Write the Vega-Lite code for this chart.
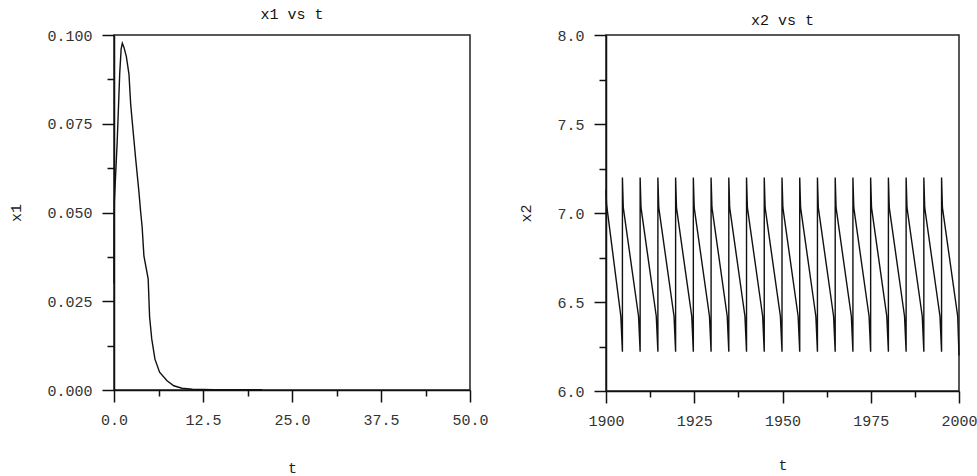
{
  "$schema": "https://vega.github.io/schema/vega-lite/v6.json",
  "padding": {"left": 8, "top": 6, "right": 0, "bottom": 0},
  "spacing": 29,
  "background": "white",
  "datasets": {
    "x1data": [
      {"t": 0, "x1": 0.03}, {"t": 0.05, "x1": 0.053}, {"t": 0.45, "x1": 0.07}, {"t": 0.8, "x1": 0.089},
      {"t": 1.0, "x1": 0.096}, {"t": 1.17, "x1": 0.0977}, {"t": 1.4, "x1": 0.0965}, {"t": 1.73, "x1": 0.094},
      {"t": 2.1, "x1": 0.089}, {"t": 2.34, "x1": 0.0806}, {"t": 2.53, "x1": 0.0763}, {"t": 3.05, "x1": 0.065},
      {"t": 3.5, "x1": 0.0558}, {"t": 3.75, "x1": 0.05}, {"t": 3.95, "x1": 0.046}, {"t": 4.2, "x1": 0.0378},
      {"t": 4.8, "x1": 0.0313}, {"t": 5.0, "x1": 0.0206}, {"t": 5.3, "x1": 0.0144}, {"t": 5.75, "x1": 0.0087},
      {"t": 6.4, "x1": 0.005}, {"t": 7.45, "x1": 0.0026}, {"t": 8.4, "x1": 0.0012}, {"t": 9.55, "x1": 0.0005},
      {"t": 11, "x1": 0.0002}, {"t": 14, "x1": 0.0001}, {"t": 20.8, "x1": 0.0001}
    ],
    "x2data": [
      {"t": 1900, "x2": 7.13}, {"t": 1900.15, "x2": 7.05}, {"t": 1904.2, "x2": 6.42},
      {"t": 1904.65, "x2": 6.22}, {"t": 1904.65, "x2": 7.2}, {"t": 1904.9, "x2": 7.03}, {"t": 1909.22, "x2": 6.42},
      {"t": 1909.67, "x2": 6.22}, {"t": 1909.67, "x2": 7.2}, {"t": 1909.92, "x2": 7.03}, {"t": 1914.24, "x2": 6.42},
      {"t": 1914.7, "x2": 6.22}, {"t": 1914.7, "x2": 7.2}, {"t": 1914.95, "x2": 7.03}, {"t": 1919.27, "x2": 6.42},
      {"t": 1919.72, "x2": 6.22}, {"t": 1919.72, "x2": 7.2}, {"t": 1919.97, "x2": 7.03}, {"t": 1924.29, "x2": 6.42},
      {"t": 1924.74, "x2": 6.22}, {"t": 1924.74, "x2": 7.2}, {"t": 1924.99, "x2": 7.03}, {"t": 1929.31, "x2": 6.42},
      {"t": 1929.77, "x2": 6.22}, {"t": 1929.77, "x2": 7.2}, {"t": 1930.02, "x2": 7.03}, {"t": 1934.34, "x2": 6.42},
      {"t": 1934.79, "x2": 6.22}, {"t": 1934.79, "x2": 7.2}, {"t": 1935.04, "x2": 7.03}, {"t": 1939.36, "x2": 6.42},
      {"t": 1939.81, "x2": 6.22}, {"t": 1939.81, "x2": 7.2}, {"t": 1940.06, "x2": 7.03}, {"t": 1944.38, "x2": 6.42},
      {"t": 1944.83, "x2": 6.22}, {"t": 1944.83, "x2": 7.2}, {"t": 1945.08, "x2": 7.03}, {"t": 1949.4, "x2": 6.42},
      {"t": 1949.86, "x2": 6.22}, {"t": 1949.86, "x2": 7.2}, {"t": 1950.11, "x2": 7.03}, {"t": 1954.43, "x2": 6.42},
      {"t": 1954.88, "x2": 6.22}, {"t": 1954.88, "x2": 7.2}, {"t": 1955.13, "x2": 7.03}, {"t": 1959.45, "x2": 6.42},
      {"t": 1959.9, "x2": 6.22}, {"t": 1959.9, "x2": 7.2}, {"t": 1960.15, "x2": 7.03}, {"t": 1964.47, "x2": 6.42},
      {"t": 1964.93, "x2": 6.22}, {"t": 1964.93, "x2": 7.2}, {"t": 1965.18, "x2": 7.03}, {"t": 1969.5, "x2": 6.42},
      {"t": 1969.95, "x2": 6.22}, {"t": 1969.95, "x2": 7.2}, {"t": 1970.2, "x2": 7.03}, {"t": 1974.52, "x2": 6.42},
      {"t": 1974.97, "x2": 6.22}, {"t": 1974.97, "x2": 7.2}, {"t": 1975.22, "x2": 7.03}, {"t": 1979.54, "x2": 6.42},
      {"t": 1980.0, "x2": 6.22}, {"t": 1980.0, "x2": 7.2}, {"t": 1980.25, "x2": 7.03}, {"t": 1984.57, "x2": 6.42},
      {"t": 1985.02, "x2": 6.22}, {"t": 1985.02, "x2": 7.2}, {"t": 1985.27, "x2": 7.03}, {"t": 1989.59, "x2": 6.42},
      {"t": 1990.04, "x2": 6.22}, {"t": 1990.04, "x2": 7.2}, {"t": 1990.29, "x2": 7.03}, {"t": 1994.61, "x2": 6.42},
      {"t": 1995.06, "x2": 6.22}, {"t": 1995.06, "x2": 7.2}, {"t": 1995.31, "x2": 7.03}, {"t": 1999.63, "x2": 6.42},
      {"t": 2000, "x2": 6.2}
    ]
  },
  "config": {
    "view": {"stroke": "#222", "strokeWidth": 1.5},
    "font": "Liberation Mono",
    "title": {"font": "Liberation Mono", "fontSize": 15, "fontWeight": "normal", "color": "#111"},
    "axis": {
      "grid": false,
      "domainColor": "#111", "domainWidth": 1.5,
      "tickColor": "#111", "tickWidth": 1.5,
      "labelFont": "Liberation Mono", "labelFontSize": 15, "labelColor": "#333",
      "titleFont": "Liberation Mono", "titleFontSize": 15, "titleFontWeight": "normal", "titleColor": "#222",
      "labelOverlap": false, "labelFlush": false
    },
    "axisX": {"labelPadding": 10, "titlePadding": 33},
    "axisY": {"labelPadding": 10, "titlePadding": 23}
  },
  "hconcat": [
    {
      "width": 356, "height": 355,
      "title": {"text": "x1 vs t", "offset": 6},
      "data": {"name": "x1data"},
      "mark": {"type": "line", "color": "#111", "strokeWidth": 1.4},
      "encoding": {
        "x": {
          "field": "t", "type": "quantitative",
          "scale": {"domain": [0, 50], "nice": false, "zero": false},
          "axis": {
            "title": "t",
            "values": [0, 6.25, 12.5, 18.75, 25, 31.25, 37.5, 43.75, 50],
            "labelExpr": "abs(datum.value/12.5 - round(datum.value/12.5)) < 0.001 ? format(datum.value, '.1f') : ''",
            "tickSize": {"condition": {"test": "abs(datum.value/12.5 - round(datum.value/12.5)) < 0.001", "value": 12}, "value": 6}
          }
        },
        "y": {
          "field": "x1", "type": "quantitative",
          "scale": {"domain": [0, 0.1], "nice": false},
          "axis": {
            "title": "x1",
            "values": [0, 0.0125, 0.025, 0.0375, 0.05, 0.0625, 0.075, 0.0875, 0.1],
            "labelExpr": "abs(datum.value*40 - round(datum.value*40)) < 0.001 ? format(datum.value, '.3f') : ''",
            "tickSize": {"condition": {"test": "abs(datum.value*40 - round(datum.value*40)) < 0.001", "value": 12}, "value": 7}
          }
        },
        "order": {"value": null}
      }
    },
    {
      "width": 353, "height": 356,
      "title": {"text": "x2 vs t", "offset": 0},
      "data": {"name": "x2data"},
      "mark": {"type": "line", "color": "#111", "strokeWidth": 1.4},
      "encoding": {
        "x": {
          "field": "t", "type": "quantitative",
          "scale": {"domain": [1900, 2000], "nice": false, "zero": false},
          "axis": {
            "title": "t",
            "titlePadding": 29,
            "values": [1900, 1912.5, 1925, 1937.5, 1950, 1962.5, 1975, 1987.5, 2000],
            "labelExpr": "abs(datum.value/25 - round(datum.value/25)) < 0.001 ? format(datum.value, 'd') : ''",
            "tickSize": {"condition": {"test": "abs(datum.value/25 - round(datum.value/25)) < 0.001", "value": 12}, "value": 6}
          }
        },
        "y": {
          "field": "x2", "type": "quantitative",
          "scale": {"domain": [6, 8], "nice": false, "zero": false},
          "axis": {
            "title": "x2",
            "values": [6, 6.25, 6.5, 6.75, 7, 7.25, 7.5, 7.75, 8],
            "labelExpr": "abs(datum.value*2 - round(datum.value*2)) < 0.001 ? format(datum.value, '.1f') : ''",
            "tickSize": {"condition": {"test": "abs(datum.value*2 - round(datum.value*2)) < 0.001", "value": 12}, "value": 7}
          }
        },
        "order": {"value": null}
      }
    }
  ]
}
